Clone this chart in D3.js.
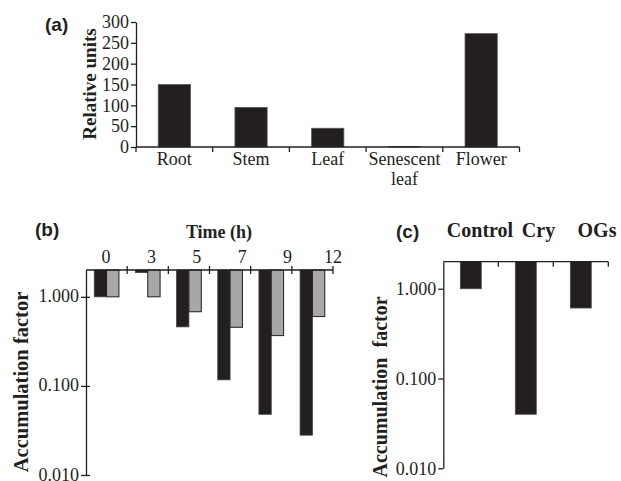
<!DOCTYPE html>
<html>
<head>
<meta charset="utf-8">
<script src="https://cdnjs.cloudflare.com/ajax/libs/d3/7.8.5/d3.min.js"></script>
<style>
    body { margin: 0; background: #fff; }
    svg text { font-family: "Liberation Serif", "Times New Roman", serif; fill: #231f20; }
    svg text.panel { font-family: "Liberation Sans", Arial, sans-serif; font-weight: bold; font-size: 19px; }
    .bold { font-weight: bold; }
</style>
</head>
<body>
<script>
// panel (a) data
var tissues = ["Root", "Stem", "Leaf", "Senescent leaf", "Flower"];
var relUnits = [150, 95, 45, 1, 272];
var relTicks = [0, 50, 100, 150, 200, 250, 300];

// panel (b) data
var times = ["0", "3", "5", "7", "9", "12"];
var darkB = [1.0, 1.87, 0.46, 0.117, 0.048, 0.028];
var greyB = [1.0, 1.0, 0.68, 0.455, 0.367, 0.60];

// panel (c) data
var treatments = ["Control", "Cry", "OGs"];
var accC = [1.0, 0.04, 0.61];

var logTicks = [1, 0.1, 0.01];

window.onload = function(){

    var ink = "#231f20";
    var svg = d3.select("body").append("svg")
        .attr("width", 621)
        .attr("height", 481);

    function styleAxis(g) {
        g.select(".domain").attr("stroke", ink).attr("stroke-width", 1.3);
        g.selectAll(".tick line").attr("stroke", ink).attr("stroke-width", 1.3);
        g.selectAll(".tick text")
            .style("font-family", "'Liberation Serif', 'Times New Roman', serif")
            .style("font-size", "18px")
            .attr("fill", ink);
    }

    // ---------- panel (a) ----------
    var xa = d3.scaleBand().domain(tissues).range([136, 519.5]);
    var xaBar = d3.scaleBand().domain(tissues).range([136, 519.5])
        .paddingInner(0.58).paddingOuter(0.29);
    var ya = d3.scaleLinear().domain([0, 300]).range([147, 22]);

    svg.selectAll(".barA")
        .data(relUnits)
        .enter().append("rect")
        .attr("class", "barA")
        .attr("x", function (d, i) { return xaBar(tissues[i]); })
        .attr("width", xaBar.bandwidth())
        .attr("y", function (d) { return ya(d); })
        .attr("height", function (d) { return ya(0) - ya(d); })
        .attr("fill", ink)
        .attr("stroke", "#555")
        .attr("stroke-width", 0.8);

    var gya = svg.append("g")
        .attr("transform", "translate(136,0)")
        .call(d3.axisLeft(ya).tickValues(relTicks).tickSize(5).tickPadding(2).tickSizeOuter(0));
    styleAxis(gya);

    // x axis of (a): line with tick marks at the band edges
    var edgesA = tissues.map(function (t) { return xa(t); }).concat([xa.range()[1]]);
    svg.append("line")
        .attr("x1", 136).attr("x2", xa.range()[1])
        .attr("y1", ya(0)).attr("y2", ya(0))
        .attr("stroke", ink).attr("stroke-width", 1.3);
    svg.selectAll(".tickA")
        .data(edgesA)
        .enter().append("line")
        .attr("x1", function (d) { return d; }).attr("x2", function (d) { return d; })
        .attr("y1", ya(0)).attr("y2", ya(0) + 5)
        .attr("stroke", ink).attr("stroke-width", 1.3);

    var labA = svg.selectAll(".labA")
        .data(tissues)
        .enter().append("text")
        .attr("text-anchor", "middle")
        .attr("font-size", 18)
        .attr("y", 165);
    labA.each(function (t) {
        var words = t.split(" ");
        var el = d3.select(this);
        words.forEach(function (w, k) {
            el.append("tspan")
                .attr("x", xa(t) + xa.bandwidth() / 2)
                .attr("dy", k == 0 ? 0 : 20)
                .text(w);
        });
    });

    svg.append("text")
        .attr("class", "bold")
        .attr("font-size", 19)
        .attr("text-anchor", "middle")
        .attr("transform", "translate(96,84) rotate(-90)")
        .text("Relative units");

    svg.append("text").attr("class", "panel")
        .attr("x", 45).attr("y", 31).text("(a)");

    // ---------- panel (b) ----------
    var xb = d3.scaleBand().domain(times).range([86, 333]);
    var xbIn = d3.scaleBand().domain(["dark", "grey"])
        .range([xb.bandwidth() * 0.2, xb.bandwidth() * 0.8]);
    var yb = d3.scaleLog().domain([0.01, 2]).range([475, 270]);
    var xbLab = d3.scalePoint().domain(times).range([106, 333]);

    var groupsB = svg.selectAll(".grpB")
        .data(times)
        .enter().append("g")
        .attr("transform", function (d) { return "translate(" + xb(d) + ",0)"; });

    groupsB.append("rect")
        .attr("x", xbIn("dark"))
        .attr("width", xbIn.bandwidth())
        .attr("y", yb(2))
        .attr("height", function (d, i) { return yb(darkB[i]) - yb(2); })
        .attr("fill", ink)
        .attr("stroke", "#444")
        .attr("stroke-width", 0.8);

    groupsB.append("rect")
        .attr("x", xbIn("grey"))
        .attr("width", xbIn.bandwidth())
        .attr("y", yb(2))
        .attr("height", function (d, i) { return yb(greyB[i]) - yb(2); })
        .attr("fill", "#a7a7a7")
        .attr("stroke", ink)
        .attr("stroke-width", 1);

    // y axis of (b), ticks crossing the line
    var gyb = svg.append("g")
        .attr("transform", "translate(86,0)")
        .call(d3.axisLeft(yb).tickValues(logTicks).tickFormat(d3.format(".3f"))
            .tickSize(5).tickPadding(2).tickSizeOuter(0));
    styleAxis(gyb);
    gyb.selectAll(".tick line").attr("x1", 4);
    gyb.selectAll(".tick text").attr("dy", "0.28em");

    // top axis of (b)
    var edgesB = times.map(function (t) { return xb(t); }).concat([xb.range()[1]]);
    svg.append("line")
        .attr("x1", 86).attr("x2", xb.range()[1])
        .attr("y1", yb(2)).attr("y2", yb(2))
        .attr("stroke", ink).attr("stroke-width", 1.3);
    svg.selectAll(".tickB")
        .data(edgesB.slice(1))
        .enter().append("line")
        .attr("x1", function (d) { return d; }).attr("x2", function (d) { return d; })
        .attr("y1", yb(2) - 4).attr("y2", yb(2) + 4)
        .attr("stroke", ink).attr("stroke-width", 1.3);

    svg.selectAll(".labB")
        .data(times)
        .enter().append("text")
        .attr("text-anchor", "middle")
        .attr("font-size", 18)
        .attr("x", function (d) { return xbLab(d); })
        .attr("y", 263)
        .text(function (d) { return d; });

    svg.append("text")
        .attr("class", "bold")
        .attr("font-size", 18)
        .attr("text-anchor", "middle")
        .attr("x", 219).attr("y", 238)
        .text("Time (h)");

    svg.append("text")
        .attr("class", "bold")
        .attr("font-size", 20.5)
        .attr("text-anchor", "middle")
        .attr("transform", "translate(28,382) rotate(-90)")
        .text("Accumulation factor");

    svg.append("text").attr("class", "panel")
        .attr("x", 35).attr("y", 236).text("(b)");

    // ---------- panel (c) ----------
    var xc = d3.scaleBand().domain(treatments).range([443.3, 608.3]);
    var xcBar = d3.scaleBand().domain(treatments).range([443.3, 608.3])
        .paddingInner(0.62).paddingOuter(0.31);
    var yc = d3.scaleLog().domain([0.01, 2]).range([468.3, 261.7]);
    var xcLab = d3.scalePoint().domain(treatments).range([480, 597]);

    svg.selectAll(".barC")
        .data(accC)
        .enter().append("rect")
        .attr("x", function (d, i) { return xcBar(treatments[i]); })
        .attr("width", xcBar.bandwidth())
        .attr("y", yc(2))
        .attr("height", function (d) { return yc(d) - yc(2); })
        .attr("fill", ink)
        .attr("stroke", "#444")
        .attr("stroke-width", 0.8);

    var gyc = svg.append("g")
        .attr("transform", "translate(443.3,0)")
        .call(d3.axisLeft(yc).tickValues(logTicks).tickFormat(d3.format(".3f"))
            .tickSize(5).tickPadding(2).tickSizeOuter(0));
    styleAxis(gyc);

    var edgesC = treatments.map(function (t) { return xc(t); }).concat([xc.range()[1]]);
    svg.append("line")
        .attr("x1", 443.3).attr("x2", xc.range()[1])
        .attr("y1", yc(2)).attr("y2", yc(2))
        .attr("stroke", ink).attr("stroke-width", 1.3);
    svg.selectAll(".tickC")
        .data(edgesC.slice(1))
        .enter().append("line")
        .attr("x1", function (d) { return d; }).attr("x2", function (d) { return d; })
        .attr("y1", yc(2)).attr("y2", yc(2) + 5)
        .attr("stroke", ink).attr("stroke-width", 1.3);

    svg.selectAll(".labC")
        .data(treatments)
        .enter().append("text")
        .attr("class", "bold")
        .attr("text-anchor", "middle")
        .attr("font-size", 20)
        .attr("x", function (d) { return xcLab(d); })
        .attr("y", 237)
        .text(function (d) { return d; });

    svg.append("text")
        .attr("class", "bold")
        .attr("font-size", 20)
        .attr("text-anchor", "middle")
        .attr("xml:space", "preserve")
        .style("white-space", "pre")
        .attr("transform", "translate(386.5,387) rotate(-90)")
        .text("Accumulation  factor");

    svg.append("text").attr("class", "panel")
        .attr("x", 396).attr("y", 238).text("(c)");
};
</script>
</body>
</html>
